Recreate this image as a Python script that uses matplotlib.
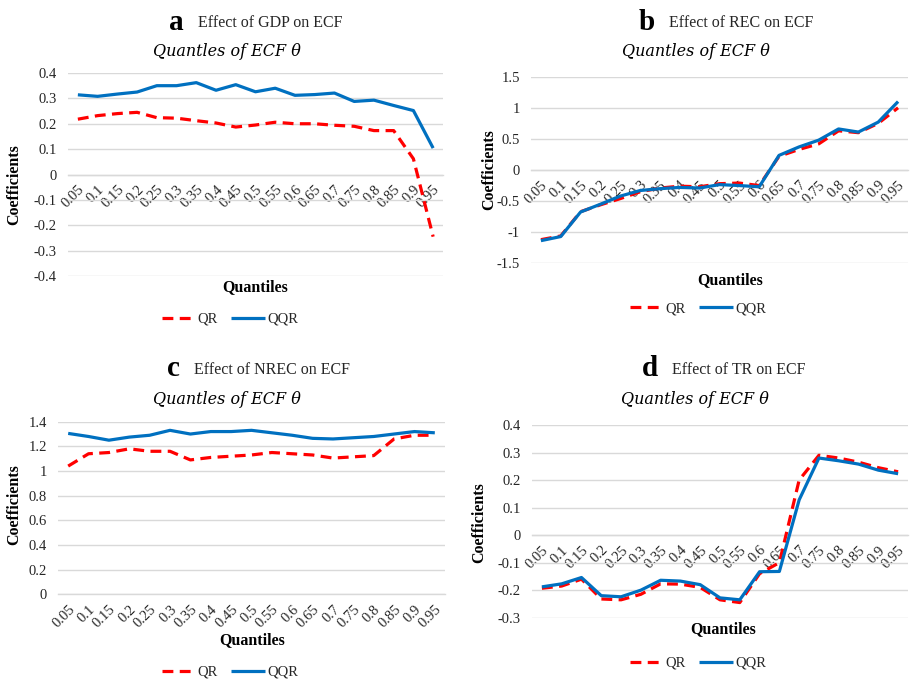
import matplotlib
matplotlib.use("Agg")
import matplotlib.pyplot as plt
from matplotlib.ticker import FuncFormatter, MultipleLocator
from matplotlib.lines import Line2D

quantiles = ["0.05", "0.1", "0.15", "0.2", "0.25", "0.3", "0.35", "0.4", "0.45", "0.5",
             "0.55", "0.6", "0.65", "0.7", "0.75", "0.8", "0.85", "0.9", "0.95"]

qr_gdp = [0.218, 0.232, 0.240, 0.245, 0.224, 0.222, 0.212, 0.203, 0.187, 0.195,
          0.206, 0.200, 0.200, 0.194, 0.190, 0.173, 0.173, 0.062, -0.245]
qqr_gdp = [0.314, 0.308, 0.317, 0.325, 0.350, 0.350, 0.362, 0.332, 0.354, 0.326,
           0.340, 0.312, 0.315, 0.321, 0.288, 0.293, 0.272, 0.252, 0.104]

qr_rec = [-1.12, -1.06, -0.67, -0.56, -0.46, -0.35, -0.29, -0.26, -0.27, -0.22,
          -0.21, -0.25, 0.22, 0.33, 0.42, 0.63, 0.60, 0.75, 1.00]
qqr_rec = [-1.136, -1.07, -0.675, -0.55, -0.42, -0.33, -0.30, -0.28, -0.29, -0.235,
           -0.25, -0.27, 0.235, 0.37, 0.48, 0.66, 0.61, 0.77, 1.10]

qr_nrec = [1.04, 1.14, 1.15, 1.18, 1.16, 1.16, 1.09, 1.11, 1.12, 1.13,
           1.15, 1.14, 1.13, 1.105, 1.115, 1.125, 1.26, 1.29, 1.29]
qqr_nrec = [1.305, 1.28, 1.25, 1.275, 1.29, 1.33, 1.30, 1.32, 1.32, 1.33,
            1.31, 1.29, 1.265, 1.26, 1.27, 1.28, 1.30, 1.32, 1.31]

qr_tr = [-0.193, -0.185, -0.160, -0.232, -0.235, -0.215, -0.177, -0.178, -0.190, -0.235,
         -0.245, -0.140, -0.100, 0.200, 0.290, 0.280, 0.265, 0.245, 0.230]
qqr_tr = [-0.188, -0.177, -0.154, -0.220, -0.224, -0.200, -0.164, -0.167, -0.180, -0.228,
          -0.235, -0.133, -0.132, 0.128, 0.280, 0.270, 0.258, 0.236, 0.223]

W, H = 910, 680
fig = plt.figure(figsize=(9.1, 6.8), dpi=100)
SERIF = ["Liberation Serif", "DejaVu Serif"]
RED = "#FF0000"
BLUE = "#0070C0"
GRID = "#D9D9D9"
TXT = "#262626"


def fmt(v, pos):
    v = round(v, 2) + 0.0
    return f"{v:g}"


def panel(box, qr, qqr, ylim, step, letter, effect, sub_xy, lab_xy, ylab_xy,
          leg_xy, head_xy, labels_at_zero=True):
    l, r, t, b = box
    ax = fig.add_axes([l / W, 1 - b / H, (r - l) / W, (b - t) / H])
    x = list(range(len(quantiles)))
    ax.plot(x, qr, color=RED, lw=2.3, dashes=(3.4, 2.0), dash_capstyle="butt",
            label="QR", zorder=3)
    ax.plot(x, qqr, color=BLUE, lw=2.3, solid_capstyle="butt", solid_joinstyle="round",
            label="QQR", zorder=4)
    ax.set_xlim(-0.5, len(quantiles) - 0.5)
    ax.set_ylim(*ylim)
    ax.yaxis.set_major_locator(MultipleLocator(step))
    ax.yaxis.set_major_formatter(FuncFormatter(fmt))
    ax.grid(axis="y", color=GRID, lw=1.0)
    ax.set_axisbelow(True)
    for s in ["top", "right", "left"]:
        ax.spines[s].set_visible(False)
    ax.spines["bottom"].set_color(GRID)
    ax.spines["bottom"].set_linewidth(1.0)
    if labels_at_zero:
        ax.spines["bottom"].set_position(("data", 0))
    ax.set_xticks(x)
    ax.set_xticklabels(quantiles, rotation=45, ha="right", va="top",
                       rotation_mode="anchor", fontsize=10.5, family=SERIF, color=TXT)
    ax.tick_params(axis="x", length=0, pad=6)
    ax.tick_params(axis="y", length=0, pad=8, labelsize=10.5, labelcolor=TXT)
    for lab in ax.get_yticklabels():
        lab.set_family(SERIF)
    ax.patch.set_alpha(0)

    # header
    hx, hy = head_xy
    fig.text(hx / W, 1 - hy / H, letter, fontsize=21, fontweight="bold",
             family=SERIF, ha="right", va="center", color="black")
    fig.text((hx + 14) / W, 1 - (hy + 1) / H, effect, fontsize=11.5,
             family=SERIF, ha="left", va="center", color=TXT)
    sx, sy = sub_xy
    fig.text(sx / W, 1 - sy / H, "Quantles of ECF \u03b8", fontsize=11.5,
             family=["DejaVu Serif"], style="italic", ha="center", va="center",
             color="black")
    qx, qy = lab_xy
    fig.text(qx / W, 1 - qy / H, "Quantiles", fontsize=11.5, fontweight="bold",
             family=SERIF, ha="center", va="center", color="black")
    cx, cy = ylab_xy
    fig.text(cx / W, 1 - cy / H, "Coefficients", fontsize=11.5, fontweight="bold",
             family=SERIF, ha="center", va="center", rotation=90, color="black")
    h_qr = Line2D([], [], color=RED, lw=2.3, dashes=(3.4, 2.0), dash_capstyle="butt")
    h_qqr = Line2D([], [], color=BLUE, lw=2.3, solid_capstyle="butt")
    lx, ly = leg_xy
    leg = fig.legend([h_qr, h_qqr], ["QR", "QQR"], loc="center",
                     bbox_to_anchor=(lx / W, 1 - ly / H), ncol=2, frameon=False,
                     handlelength=2.3, handletextpad=0.15, columnspacing=0.9,
                     prop={"family": SERIF, "size": 10.5})
    for t_ in leg.get_texts():
        t_.set_color(TXT)
    return ax


panel((68, 443, 73, 276), qr_gdp, qqr_gdp, (-0.4, 0.4), 0.1, "a",
      "Effect of GDP on ECF", (227, 52), (255, 287), (14, 185), (230, 319), (184, 22))
panel((531, 908, 76.7, 263.3), qr_rec, qqr_rec, (-1.5, 1.5), 0.5, "b",
      "Effect of REC on ECF", (696, 52), (730, 280), (489, 170), (698, 309), (655, 22))
panel((58, 445, 421.7, 594.3), qr_nrec, qqr_nrec, (0, 1.4), 0.2, "c",
      "Effect of NREC on ECF", (227, 400), (252, 640), (14, 505), (230, 672), (180, 369),
      labels_at_zero=False)
panel((532, 908, 425, 617.7), qr_tr, qqr_tr, (-0.3, 0.4), 0.1, "d",
      "Effect of TR on ECF", (695, 400), (723, 629), (479, 523), (698, 663), (658, 369))

fig.savefig("out.png", dpi=100, facecolor="white")
